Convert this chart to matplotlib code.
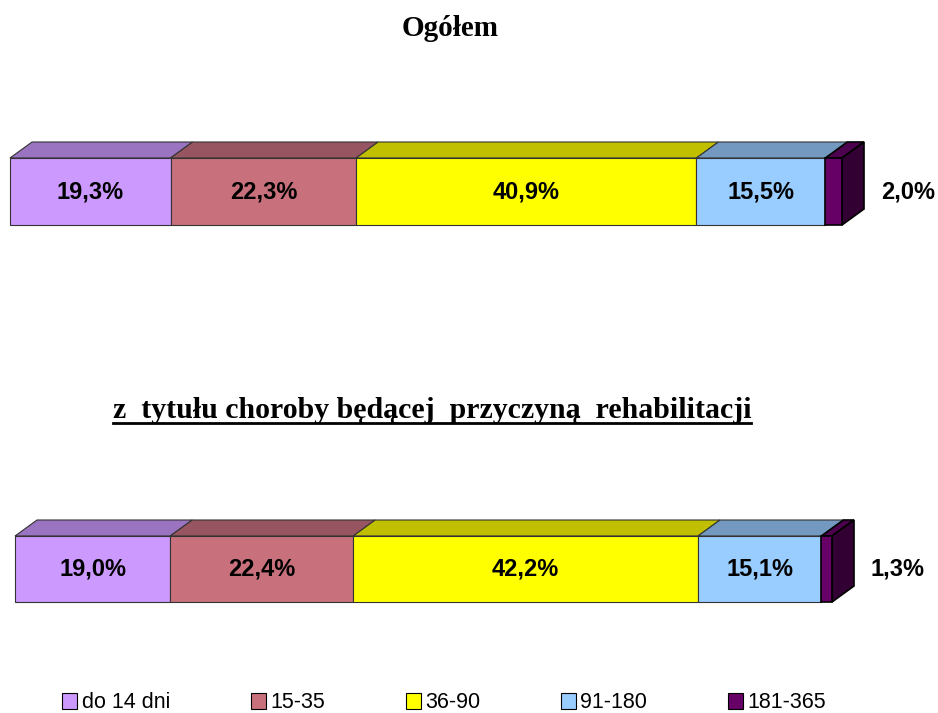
import matplotlib
matplotlib.use("Agg")
import matplotlib.pyplot as plt
from matplotlib.patches import Polygon, Rectangle
from matplotlib.lines import Line2D
import numpy as np

categories = ["do 14 dni", "15-35", "36-90", "91-180", "181-365"]
ogolem = [19.3, 22.3, 40.9, 15.5, 2.0]
rehab = [19.0, 22.4, 42.2, 15.1, 1.3]
labels_ogolem = ["19,3%", "22,3%", "40,9%", "15,5%", "2,0%"]
labels_rehab = ["19,0%", "22,4%", "42,2%", "15,1%", "1,3%"]

front_colors = ["#CC99FF", "#C8717C", "#FFFF00", "#99CCFF", "#660066"]
top_colors = ["#9A74C0", "#965560", "#C0C000", "#7399C0", "#4D004D"]
side_color = "#330033"

W, H = 938, 713
fig = plt.figure(figsize=(W / 100, H / 100), dpi=100)

serif = ["Liberation Serif", "DejaVu Serif"]
sans = ["Liberation Sans", "DejaVu Sans"]


def draw_bar(rect_px, values, labels, depth_px=(22, 16), out_x=None):
    left, top, right, bottom = rect_px
    ax = fig.add_axes([left / W, 1 - bottom / H, (right - left) / W, (bottom - top) / H])
    ax.set_xlim(0, 100)
    ax.set_ylim(0, 1)
    ax.axis("off")
    dx = depth_px[0] / (right - left) * 100
    dy = depth_px[1] / (bottom - top)
    starts = np.concatenate([[0], np.cumsum(values)[:-1]])
    n = len(values)
    for i, (s, v) in enumerate(zip(starts, values)):
        lw = 1.2 if i == n - 1 else 0.8
        ec = "black" if i == n - 1 else "#333333"
        ax.barh(0.5, v, left=s, height=1, color=front_colors[i],
                edgecolor=ec, linewidth=lw, clip_on=False, zorder=2)
        top_face = Polygon([[s, 1], [s + v, 1], [s + v + dx, 1 + dy], [s + dx, 1 + dy]],
                           closed=True, facecolor=top_colors[i], edgecolor=ec,
                           linewidth=lw, clip_on=False, zorder=1)
        ax.add_patch(top_face)
    end = starts[-1] + values[-1]
    side = Polygon([[end, 0], [end + dx, dy], [end + dx, 1 + dy], [end, 1]],
                   closed=True, facecolor=side_color, edgecolor="black",
                   linewidth=1.2, clip_on=False, zorder=1)
    ax.add_patch(side)
    for i, (s, v) in enumerate(zip(starts[:-1], values[:-1])):
        ax.text(s + v / 2, 0.5, labels[i], ha="center", va="center",
                fontsize=17, fontweight="bold", family=sans, zorder=3)
    ax.text(out_x, 0.5, labels[-1], ha="center", va="center",
            fontsize=17, fontweight="bold", family=sans, clip_on=False)
    return ax


ax1 = draw_bar((10, 158, 842, 225), ogolem, labels_ogolem, out_x=108.0)
ax2 = draw_bar((15, 536, 832, 602), rehab, labels_rehab, out_x=108.0)

fig.text(450 / W, 1 - 28 / H, "Ogółem", ha="center", va="center",
         fontsize=21, fontweight="bold", family=serif)

sub = fig.text(432 / W, 1 - 411 / H, "z  tytułu choroby będącej  przyczyną  rehabilitacji",
               ha="center", va="center", fontsize=21.5, fontweight="bold", family=serif)
fig.canvas.draw()
bb = sub.get_window_extent().transformed(fig.transFigure.inverted())
fig.add_artist(Line2D([bb.x0, bb.x1], [bb.y0 + 0.002, bb.y0 + 0.002],
                      transform=fig.transFigure, color="black", linewidth=2))

handles = [Rectangle((0, 0), 1, 1, facecolor=c, edgecolor="black", linewidth=0.8)
           for c in front_colors]
fig.legend(handles, categories, loc="center", bbox_to_anchor=(444 / W, 1 - 703 / H),
           ncol=5, frameon=False, handlelength=0.7, handleheight=0.7,
           handletextpad=0.2, columnspacing=3.75,
           prop={"family": sans, "size": 15.5})

fig.savefig("out.png", dpi=100)
